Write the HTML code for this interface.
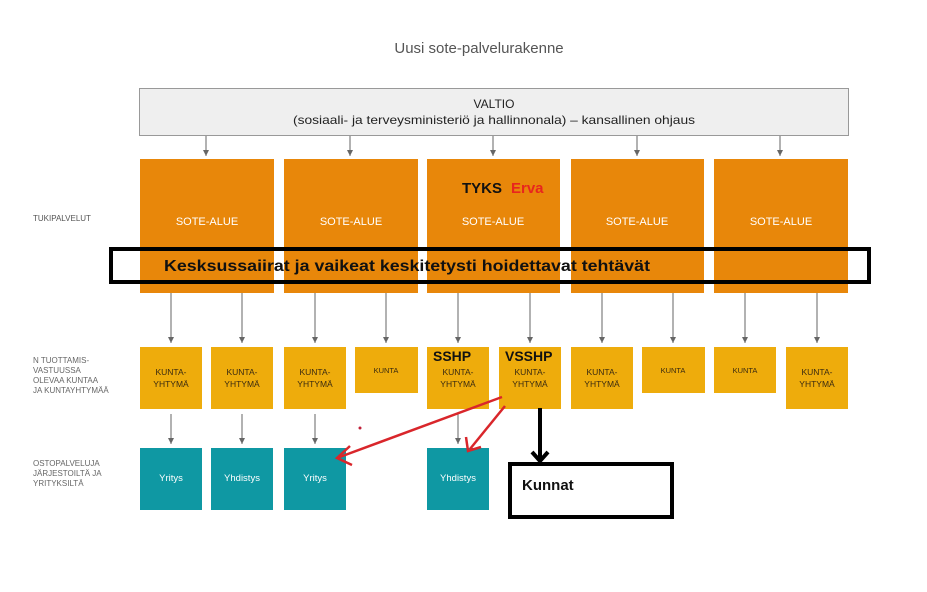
<!DOCTYPE html>
<html><head><meta charset="utf-8"><style>
body{margin:0;background:#fff;}
svg{display:block;font-family:"Liberation Sans",sans-serif;}
</style></head><body>
<svg width="927" height="592" viewBox="0 0 927 592" xmlns="http://www.w3.org/2000/svg">
<defs>
<marker id="g" markerWidth="6" markerHeight="6" refX="6" refY="3" orient="auto" markerUnits="userSpaceOnUse"><path d="M0,0 L6,3 L0,6Z" fill="#666"/></marker>
</defs>
<text x="479" y="53" text-anchor="middle" font-size="15" fill="#555">Uusi sote-palvelurakenne</text>
<rect x="139.5" y="88.5" width="709" height="47" fill="#efefef" stroke="#999"/>
<text x="494" y="108" text-anchor="middle" font-size="12" fill="#222">VALTIO</text>
<text x="494" y="124" text-anchor="middle" font-size="12" fill="#222" textLength="402" lengthAdjust="spacingAndGlyphs">(sosiaali- ja terveysministeriö ja hallinnonala) – kansallinen ohjaus</text>
<g stroke="#666" stroke-width="1" marker-end="url(#g)">
<line x1="206" y1="136" x2="206" y2="156"/><line x1="350" y1="136" x2="350" y2="156"/><line x1="493" y1="136" x2="493" y2="156"/><line x1="637" y1="136" x2="637" y2="156"/><line x1="780" y1="136" x2="780" y2="156"/>
<line x1="171" y1="293" x2="171" y2="343"/><line x1="242" y1="293" x2="242" y2="343"/><line x1="315" y1="293" x2="315" y2="343"/><line x1="386" y1="293" x2="386" y2="343"/><line x1="458" y1="293" x2="458" y2="343"/><line x1="530" y1="293" x2="530" y2="343"/><line x1="602" y1="293" x2="602" y2="343"/><line x1="673" y1="293" x2="673" y2="343"/><line x1="745" y1="293" x2="745" y2="343"/><line x1="817" y1="293" x2="817" y2="343"/>
<line x1="171" y1="414" x2="171" y2="444"/><line x1="242" y1="414" x2="242" y2="444"/><line x1="315" y1="414" x2="315" y2="444"/><line x1="458" y1="414" x2="458" y2="444"/>
</g>
<g fill="#e8870a">
<rect x="140" y="159" width="134" height="134"/><rect x="284" y="159" width="134" height="134"/><rect x="427" y="159" width="133" height="134"/><rect x="571" y="159" width="133" height="134"/><rect x="714" y="159" width="134" height="134"/>
</g>
<g fill="#fff" font-size="11" text-anchor="middle">
<text x="207" y="225">SOTE-ALUE</text><text x="351" y="225">SOTE-ALUE</text><text x="493" y="225">SOTE-ALUE</text><text x="637" y="225">SOTE-ALUE</text><text x="781" y="225">SOTE-ALUE</text>
</g>
<text x="462" y="193" font-size="15" font-weight="bold" fill="#111">TYKS</text>
<text x="511" y="193" font-size="15" font-weight="bold" fill="#e8251e">Erva</text>
<text x="33" y="221" font-size="8" fill="#555">TUKIPALVELUT</text>
<rect x="111" y="249" width="758" height="33" fill="none" stroke="#000" stroke-width="4"/>
<text x="164" y="271" font-size="16" font-weight="bold" fill="#111" textLength="486" lengthAdjust="spacingAndGlyphs">Kesksussaiirat ja vaikeat keskitetysti hoidettavat tehtävät</text>
<g fill="#eeac0c">
<rect x="140" y="347" width="62" height="62"/><rect x="211" y="347" width="62" height="62"/><rect x="284" y="347" width="62" height="62"/><rect x="355" y="347" width="63" height="46"/><rect x="427" y="347" width="62" height="62"/><rect x="499" y="347" width="62" height="62"/><rect x="571" y="347" width="62" height="62"/><rect x="642" y="347" width="63" height="46"/><rect x="714" y="347" width="62" height="46"/><rect x="786" y="347" width="62" height="62"/>
</g>
<g fill="#3a2a10" font-size="8.5" text-anchor="middle">
<text x="171" y="375">KUNTA-</text><text x="171" y="387">YHTYMÄ</text>
<text x="242" y="375">KUNTA-</text><text x="242" y="387">YHTYMÄ</text>
<text x="315" y="375">KUNTA-</text><text x="315" y="387">YHTYMÄ</text>
<text x="386" y="373" font-size="7.5">KUNTA</text>
<text x="458" y="375">KUNTA-</text><text x="458" y="387">YHTYMÄ</text>
<text x="530" y="375">KUNTA-</text><text x="530" y="387">YHTYMÄ</text>
<text x="602" y="375">KUNTA-</text><text x="602" y="387">YHTYMÄ</text>
<text x="673" y="373" font-size="7.5">KUNTA</text>
<text x="745" y="373" font-size="7.5">KUNTA</text>
<text x="817" y="375">KUNTA-</text><text x="817" y="387">YHTYMÄ</text>
</g>
<text x="433" y="361" font-size="14" font-weight="bold" fill="#111">SSHP</text>
<text x="505" y="361" font-size="14" font-weight="bold" fill="#111">VSSHP</text>
<g fill="#666" font-size="8">
<text x="33" y="363">N TUOTTAMIS-</text><text x="33" y="373">VASTUUSSA</text><text x="33" y="383">OLEVAA KUNTAA</text><text x="33" y="393">JA KUNTAYHTYMÄÄ</text>
<text x="33" y="466">OSTOPALVELUJA</text><text x="33" y="476">JÄRJESTOILTÄ JA</text><text x="33" y="486">YRITYKSILTÄ</text>
</g>
<g fill="#0f98a3">
<rect x="140" y="448" width="62" height="62"/><rect x="211" y="448" width="62" height="62"/><rect x="284" y="448" width="62" height="62"/><rect x="427" y="448" width="62" height="62"/>
</g>
<g fill="#fff" font-size="9.5" text-anchor="middle">
<text x="171" y="481">Yritys</text><text x="242" y="481">Yhdistys</text><text x="315" y="481">Yritys</text><text x="458" y="481">Yhdistys</text>
</g>
<g stroke="#d9262b" stroke-width="2.5" fill="none">
<line x1="502" y1="397" x2="337" y2="458"/><polyline points="350,446 337,458 352,465"/>
<line x1="505" y1="406" x2="470" y2="449"/><polyline points="466,437 468,451 481,447"/>
</g>
<circle cx="360" cy="428" r="1.5" fill="#c0203a"/>
<line x1="540" y1="408" x2="540" y2="460" stroke="#000" stroke-width="4"/>
<polyline points="532,452 540,461 548,452" stroke="#000" stroke-width="4" fill="none"/>
<rect x="510" y="464" width="162" height="53" fill="#fff" stroke="#000" stroke-width="4"/>
<text x="522" y="490" font-size="15" font-weight="bold" fill="#111">Kunnat</text>
</svg>
</body></html>
